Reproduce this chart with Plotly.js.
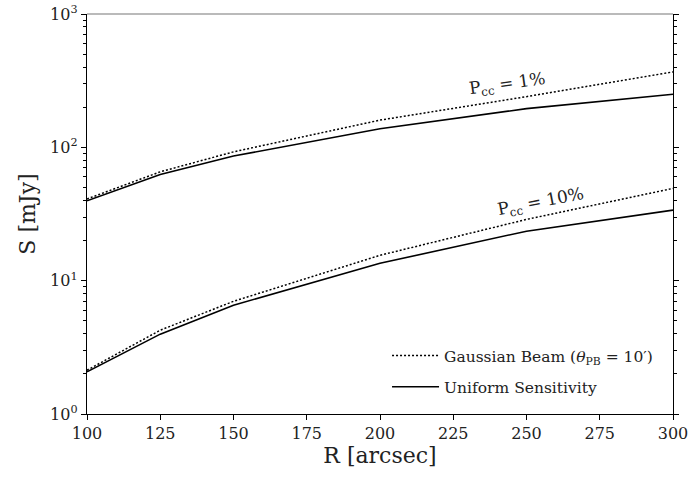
<!DOCTYPE html>
<html>
<head>
<meta charset="utf-8">
<script src="https://cdn.plot.ly/plotly-3.0.1.min.js"></script>
<style>html,body{margin:0;padding:0;background:#fff;}#chart{width:690px;height:479px;}</style>
</head>
<body>
<div id="chart"></div>
<script>
// Data
const R = [100, 125, 150, 200, 250, 300];
const gauss1 = [41, 65.5, 92.5, 160, 240, 368];
const unif1 = [39.7, 62.5, 86, 138, 195, 250];
const gauss10 = [2.13, 4.25, 7.0, 15.5, 28.8, 49.2];
const unif10 = [2.07, 3.97, 6.55, 13.5, 23.5, 33.8];
const yTickVals = [1, 10, 100, 1000];
const yTickText = ['10<sup>0</sup>', '10<sup>1</sup>', '10<sup>2</sup>', '10<sup>3</sup>'];
const xTickVals = [100, 125, 150, 175, 200, 225, 250, 275, 300];
const legendNames = ['Gaussian Beam (<i>θ</i><sub>PB</sub> = 10′)', 'Uniform Sensitivity'];
const labels = ['P<sub>cc</sub> = 1%', 'P<sub>cc</sub> = 10%'];

const FONT = "DejaVu Serif";
const dotLine = {color: 'black', width: 1.5, dash: '2px,2px'};
const solidLine = {color: 'black', width: 1.6};

const traces = [
  {x: R, y: gauss1, mode: 'lines', line: dotLine, name: legendNames[0], legendgroup: 'g', showlegend: true},
  {x: R, y: unif1, mode: 'lines', line: solidLine, name: legendNames[1], legendgroup: 'u', showlegend: true},
  {x: R, y: gauss10, mode: 'lines', line: dotLine, name: legendNames[0], legendgroup: 'g', showlegend: false},
  {x: R, y: unif10, mode: 'lines', line: solidLine, name: legendNames[1], legendgroup: 'u', showlegend: false}
];

const layout = {
  width: 690, height: 479,
  margin: {l: 87, r: 17, t: 14, b: 65},
  paper_bgcolor: 'white', plot_bgcolor: 'white',
  font: {family: FONT, color: '#222', size: 16},
  showlegend: true,
  legend: {
    x: 0.512, xanchor: 'left', y: 0.025, yanchor: 'bottom',
    bgcolor: 'rgba(0,0,0,0)', borderwidth: 0,
    font: {family: FONT, size: 15.5, color: '#222'},
    itemwidth: 47, traceorder: 'grouped', tracegroupgap: 8
  },
  xaxis: {
    range: [100, 300], tickvals: xTickVals, ticktext: xTickVals.map(String),
    showgrid: false, zeroline: false,
    showline: true, linecolor: 'black', linewidth: 1.2, mirror: false,
    ticks: 'outside', ticklen: 5, tickwidth: 1, tickcolor: 'black',
    tickfont: {family: FONT, size: 16, color: '#222'},
    title: {text: 'R [arcsec]', font: {family: FONT, size: 22, color: '#222'}, standoff: 4}
  },
  yaxis: {
    type: 'log', range: [0, 3], tickvals: yTickVals, ticktext: yTickText,
    showgrid: false, zeroline: false,
    showline: true, linecolor: 'black', linewidth: 1.2, mirror: 'ticks',
    ticks: 'outside', ticklen: 5, tickwidth: 1, tickcolor: 'black',
    tickfont: {family: FONT, size: 16, color: '#222'},
    minor: {ticks: 'outside', ticklen: 3, tickwidth: 1, tickcolor: 'black', dtick: 'D1', showgrid: false},
    title: {text: 'S [mJy]', font: {family: FONT, size: 22, color: '#222'}, standoff: 8}
  },
  shapes: [
    {type: 'line', xref: 'paper', yref: 'paper', x0: 0, x1: 1, y0: 1, y1: 1, line: {color: '#777', width: 1.2}}
  ],
  annotations: [
    {x: 0.718, y: 0.824, xref: 'paper', yref: 'paper', xanchor: 'center', yanchor: 'middle',
     text: labels[0], showarrow: false, textangle: -8,
     font: {family: FONT, size: 17, color: '#222'}},
    {x: 0.775, y: 0.529, xref: 'paper', yref: 'paper', xanchor: 'center', yanchor: 'middle',
     text: labels[1], showarrow: false, textangle: -11,
     font: {family: FONT, size: 17, color: '#222'}}
  ]
};

Plotly.newPlot('chart', traces, layout, {staticPlot: true, displayModeBar: false});
</script>
</body>
</html>
